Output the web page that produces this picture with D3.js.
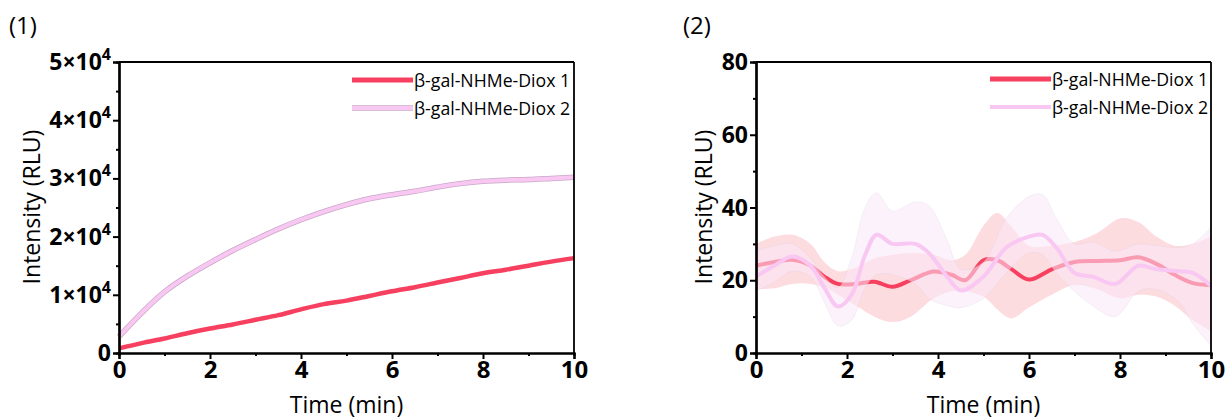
<!DOCTYPE html>
<html>
<head>
<meta charset="utf-8">
<script src="https://cdn.jsdelivr.net/npm/d3@7"></script>
<style>
  body { margin: 0; background: #fff; }
  text { font-family: "Open Sans", "Noto Sans", sans-serif; }
</style>
</head>
<body>
<script>
// panel (1): kinetics of luminescence
const t1 = [0, 0.5, 1, 1.5, 2, 2.5, 3, 3.5, 4, 4.5, 5, 5.5, 6, 6.5, 7, 7.5, 8, 8.5, 9, 9.5, 10];
const diox1A = [800, 1700, 2500, 3400, 4200, 4900, 5700, 6500, 7500, 8400, 9000, 9800, 10600, 11300, 12100, 12900, 13700, 14300, 15000, 15700, 16300];
const diox2A = [2800, 6900, 10500, 13200, 15500, 17600, 19500, 21300, 22900, 24300, 25500, 26500, 27200, 27800, 28500, 29100, 29500, 29700, 29800, 30000, 30200];

// panel (2): mean with shaded band
const t2a = [0, 0.4, 0.8, 1.2, 1.5, 1.8, 2.2, 2.6, 3.0, 3.4, 3.9, 4.3, 4.6, 5.0, 5.3, 5.6, 6.0, 6.5, 7.0, 7.5, 8.0, 8.4, 8.8, 9.2, 9.6, 10];
const diox1Mean = [24, 25, 25.6, 24, 21, 19, 19, 19.6, 18.2, 20, 22.4, 21.5, 20, 25.5, 25.5, 23.2, 20.2, 23, 25, 25.3, 25.5, 26.3, 24.5, 21.5, 19.2, 18.7];
const diox1Hi = [30, 32, 32.5, 30, 25, 22.5, 23.5, 26, 27, 27.5, 27, 25.5, 27, 35, 38.5, 35, 29.5, 29.5, 30.5, 33, 37, 36, 32, 29.5, 30, 32];
const diox1Lo = [17.5, 17.8, 19, 19, 18, 16, 13, 10, 8.5, 10, 15, 17, 17, 15.5, 12, 9.5, 12.5, 16, 18.7, 17.5, 15, 16, 15.5, 13, 9, 6];

const t2b = [0, 0.4, 0.8, 1.2, 1.5, 1.8, 2.1, 2.4, 2.65, 3.0, 3.5, 3.8, 4.2, 4.5, 5.0, 5.5, 6.0, 6.3, 6.6, 7.0, 7.4, 7.9, 8.4, 8.8, 9.3, 9.6, 10];
const diox2Mean = [21, 24, 26.5, 24, 18, 12.8, 16, 27, 32.5, 30, 30, 27.5, 21, 17.2, 21, 29, 32, 32.5, 29, 22, 21, 19, 24, 23, 22.5, 22, 18.5];
const diox2Hi = [28, 29.5, 30, 26, 21, 18, 26, 40, 44, 39, 41.5, 40.5, 31, 23, 25, 37, 43, 43.5, 37, 30, 30.5, 28, 30, 29.5, 29, 30, 34.5];
const diox2Lo = [17, 19.5, 22.5, 21, 14, 7.5, 9, 18, 21.5, 21.5, 19, 15, 13, 12.5, 15, 22, 27.5, 27, 22, 17, 13, 10, 17, 17.5, 14, 8, 2];

const seriesNames = ["β-gal-NHMe-Diox 1", "β-gal-NHMe-Diox 2"];
const xTicks = [0, 2, 4, 6, 8, 10];
const yTicksA = [0, 10000, 20000, 30000, 40000, 50000];
const yTicksB = [0, 20, 40, 60, 80];

const RED = "#f73f5f";
const PINK = "#f9c8f2";

const W = 1227, H = 419;
const svg = d3.select("body").append("svg").attr("width", W).attr("height", H);

function drawPanel(opt) {
    const x = d3.scaleLinear().domain([0, 10]).range([opt.left, opt.right]);
    const y = d3.scaleLinear().domain(opt.yDomain).range([353, 62]);
    const g = svg.append("g");

    opt.draw(g, x, y);

    // frame
    g.append("line").attr("x1", opt.left).attr("x2", opt.right).attr("y1", 62).attr("y2", 62)
        .attr("stroke", "#000").attr("stroke-width", 1.8);
    g.append("line").attr("x1", opt.right).attr("x2", opt.right).attr("y1", 62).attr("y2", 353)
        .attr("stroke", "#000").attr("stroke-width", 1.8);

    const xa = g.append("g").attr("transform", `translate(0,353)`)
        .call(d3.axisBottom(x).tickValues(xTicks).tickSize(6).tickFormat(d3.format("d")));
    const xm = g.append("g").attr("transform", `translate(0,353)`)
        .call(d3.axisBottom(x).tickValues([1, 3, 5, 7, 9]).tickSize(3).tickFormat(""));
    const ya = g.append("g").attr("transform", `translate(${opt.left},0)`)
        .call(d3.axisLeft(y).tickValues(opt.yTicks).tickSize(6).tickFormat(""));
    const ym = g.append("g").attr("transform", `translate(${opt.left},0)`)
        .call(d3.axisLeft(y).tickValues(opt.yMinor).tickSize(3).tickFormat(""));
    [xa, xm, ya, ym].forEach(a => {
        a.select(".domain").attr("stroke-width", 2.2);
        a.selectAll(".tick line").attr("stroke-width", 2);
    });
    xa.selectAll(".tick text").attr("y", 8).attr("font-size", 24).attr("font-weight", 700)
        .style("font-family", "'Open Sans', sans-serif").attr("fill", "#000");

    // y tick labels
    opt.yTicks.forEach(v => {
        const t = g.append("text").attr("x", opt.left - 8).attr("y", y(v) + 8)
            .attr("text-anchor", "end").attr("font-size", 23).attr("font-weight", 700);
        opt.yLabel(t, v);
    });

    g.append("text").attr("x", (opt.left + opt.right) / 2).attr("y", 413)
        .attr("text-anchor", "middle").attr("font-size", 23).text("Time (min)");
    g.append("text").attr("transform", `translate(${opt.titleX},207) rotate(-90)`)
        .attr("text-anchor", "middle").attr("font-size", 23).text("Intensity (RLU)");
    g.append("text").attr("x", opt.tagX).attr("y", 34).attr("font-size", 24).text(opt.tag);

    // legend
    const lg = g.append("g");
    seriesNames.forEach((name, i) => {
        const yy = opt.legY + i * 28;
        if (i === 1 && opt.outline) {
            lg.append("line").attr("x1", opt.legX).attr("x2", opt.legX + 61).attr("y1", yy).attr("y2", yy)
                .attr("stroke", "#c8a8c8").attr("stroke-width", 5.5);
        }
        lg.append("line").attr("x1", opt.legX).attr("x2", opt.legX + 61).attr("y1", yy).attr("y2", yy)
            .attr("stroke", i === 0 ? RED : PINK).attr("stroke-width", i === 0 ? 5 : 4);
        lg.append("text").attr("x", opt.legX + 62).attr("y", yy + 6.5).attr("font-size", 17.7).text(name);
    });
}

// panel (1)
drawPanel({
    left: 119, right: 574, yDomain: [0, 50000], yTicks: yTicksA,
    yMinor: [5000, 15000, 25000, 35000, 45000],
    titleX: 40, tagX: 9, tag: "(1)", legX: 352, legY: 80, outline: true,
    yLabel: (t, v) => {
        if (v === 0) { t.text("0"); return; }
        t.append("tspan").text(`${v / 10000}×10`);
        t.append("tspan").attr("dy", -10).attr("font-size", 16).text("4");
    },
    draw: (g, x, y) => {
        const line = d3.line().x((d, i) => x(t1[i])).y(d => y(d)).curve(d3.curveCatmullRom);
        g.append("path").attr("d", line(diox2A)).attr("fill", "none")
            .attr("stroke", "#c8a8c8").attr("stroke-width", 5.5);
        g.append("path").attr("d", line(diox2A)).attr("fill", "none")
            .attr("stroke", PINK).attr("stroke-width", 4);
        g.append("path").attr("d", line(diox1A)).attr("fill", "none")
            .attr("stroke", RED).attr("stroke-width", 4.5);
    }
});

// panel (2)
drawPanel({
    left: 756, right: 1211, yDomain: [0, 80], yTicks: yTicksB,
    yMinor: [10, 30, 50, 70],
    titleX: 712, tagX: 683, tag: "(2)", legX: 990, legY: 79, outline: false,
    yLabel: (t, v) => t.text(v),
    draw: (g, x, y) => {
        const cr = d3.curveCatmullRom;
        const area1 = d3.area().x((d, i) => x(t2a[i])).y0((d, i) => y(diox1Lo[i])).y1(d => y(d)).curve(cr);
        const line1 = d3.line().x((d, i) => x(t2a[i])).y(d => y(d)).curve(cr);
        const area2 = d3.area().x((d, i) => x(t2b[i])).y0((d, i) => y(diox2Lo[i])).y1(d => y(d)).curve(cr);
        const line2 = d3.line().x((d, i) => x(t2b[i])).y(d => y(d)).curve(cr);
        g.append("path").attr("d", area1(diox1Hi)).attr("fill", "#fcd0d6").attr("opacity", 0.75);
        g.append("path").attr("d", line1(diox1Mean)).attr("fill", "none")
            .attr("stroke", RED).attr("stroke-width", 4);
        g.append("path").attr("d", area2(diox2Hi)).attr("fill", "#fbe8f8").attr("opacity", 0.55)
            .attr("stroke", "#e2d2e6").attr("stroke-width", 0.6);
        g.append("path").attr("d", line2(diox2Mean)).attr("fill", "none")
            .attr("stroke", PINK).attr("stroke-width", 4);
    }
});
</script>
</body>
</html>
